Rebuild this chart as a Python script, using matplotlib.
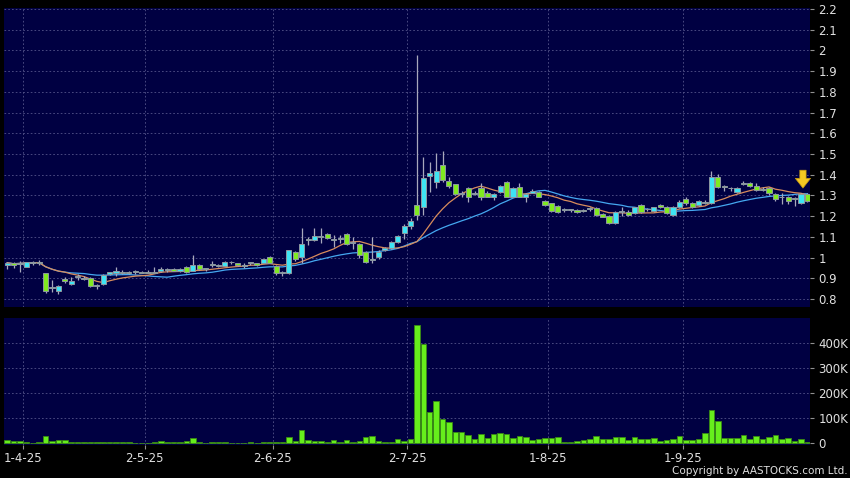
import numpy as np
import pandas as pd
import matplotlib
matplotlib.use("Agg")
import matplotlib.pyplot as plt
from matplotlib.ticker import FixedLocator, FuncFormatter

# daily OHLC, first session is three days before 1-4-25
opens = [0.965, 0.975, 0.97, 0.955, 0.975, 0.978, 0.925, 0.855, 0.84, 0.895,
         0.87, 0.905, 0.895, 0.90, 0.862, 0.87, 0.918, 0.925, 0.932, 0.932,
         0.93, 0.932, 0.932, 0.932, 0.935, 0.94, 0.943, 0.935, 0.953, 0.935,
         0.964, 0.943, 0.963, 0.96, 0.96, 0.977, 0.972, 0.96, 0.972, 0.972,
         0.972, 1.001, 0.96, 0.924, 0.924, 1.025, 1.001, 1.085, 1.085, 1.10,
         1.114, 1.085, 1.09, 1.114, 1.07, 1.065, 1.028, 0.99, 1.001, 1.036,
         1.045, 1.077, 1.118, 1.15, 1.253, 1.245, 1.394, 1.366, 1.447, 1.37,
         1.353, 1.305, 1.334, 1.307, 1.334, 1.313, 1.294, 1.318, 1.363, 1.294,
         1.342, 1.294, 1.313, 1.318, 1.273, 1.262, 1.25, 1.228, 1.228, 1.229,
         1.229, 1.233, 1.241, 1.21, 1.20, 1.165, 1.22, 1.221, 1.216, 1.253,
         1.232, 1.226, 1.253, 1.242, 1.205, 1.245, 1.281, 1.261, 1.256, 1.269,
         1.265, 1.39, 1.345, 1.334, 1.315, 1.355, 1.36, 1.345, 1.33, 1.334,
         1.305, 1.29, 1.29, 1.285, 1.265, 1.306]
highs = [0.98, 0.98, 0.985, 0.98, 0.985, 0.99, 0.925, 0.89, 0.865, 0.905,
         0.905, 0.92, 0.91, 0.905, 0.87, 0.92, 0.93, 0.955, 0.94, 0.935,
         0.94, 0.935, 0.94, 0.953, 0.955, 0.95, 0.95, 0.948, 0.96, 1.012,
         0.97, 0.95, 0.983, 0.97, 0.985, 0.983, 0.975, 0.975, 0.98, 0.975,
         0.995, 1.005, 0.962, 0.935, 1.036, 1.03, 1.141, 1.10, 1.141, 1.141,
         1.12, 1.11, 1.11, 1.118, 1.10, 1.07, 1.03, 1.10, 1.035, 1.05,
         1.08, 1.11, 1.16, 1.19, 1.98, 1.487, 1.463, 1.505, 1.515, 1.39,
         1.355, 1.32, 1.34, 1.32, 1.36, 1.32, 1.31, 1.35, 1.37, 1.34,
         1.36, 1.31, 1.33, 1.32, 1.28, 1.265, 1.255, 1.24, 1.235, 1.235,
         1.235, 1.245, 1.245, 1.215, 1.205, 1.225, 1.245, 1.23, 1.245, 1.26,
         1.24, 1.245, 1.26, 1.25, 1.25, 1.28, 1.29, 1.27, 1.28, 1.28,
         1.42, 1.405, 1.35, 1.34, 1.34, 1.37, 1.365, 1.36, 1.34, 1.34,
         1.31, 1.31, 1.295, 1.29, 1.31, 1.31]
lows = [0.945, 0.95, 0.93, 0.955, 0.965, 0.965, 0.83, 0.835, 0.825, 0.875,
        0.868, 0.89, 0.89, 0.86, 0.85, 0.865, 0.915, 0.91, 0.92, 0.92,
        0.92, 0.925, 0.925, 0.925, 0.93, 0.93, 0.935, 0.93, 0.925, 0.935,
        0.94, 0.935, 0.955, 0.955, 0.96, 0.97, 0.96, 0.95, 0.965, 0.96,
        0.972, 0.972, 0.915, 0.912, 0.922, 0.985, 0.972, 1.06, 1.08, 1.07,
        1.09, 1.05, 1.07, 1.06, 1.04, 1.0, 0.975, 0.975, 0.995, 1.03,
        1.04, 1.07, 1.09, 1.14, 1.18, 1.205, 1.318, 1.336, 1.366, 1.335,
        1.30, 1.29, 1.27, 1.30, 1.28, 1.29, 1.28, 1.31, 1.29, 1.29,
        1.29, 1.27, 1.31, 1.29, 1.25, 1.22, 1.215, 1.22, 1.22, 1.215,
        1.22, 1.225, 1.20, 1.195, 1.16, 1.16, 1.20, 1.20, 1.21, 1.215,
        1.225, 1.22, 1.24, 1.21, 1.20, 1.24, 1.255, 1.24, 1.25, 1.26,
        1.26, 1.335, 1.32, 1.32, 1.31, 1.35, 1.34, 1.32, 1.32, 1.30,
        1.275, 1.26, 1.26, 1.25, 1.26, 1.27]
closes = [0.975, 0.965, 0.975, 0.98, 0.978, 0.975, 0.84, 0.86, 0.862, 0.885,
          0.888, 0.907, 0.902, 0.862, 0.868, 0.915, 0.928, 0.933, 0.927, 0.927,
          0.931, 0.927, 0.927, 0.927, 0.943, 0.941, 0.935, 0.943, 0.928, 0.964,
          0.943, 0.944, 0.965, 0.961, 0.98, 0.976, 0.962, 0.961, 0.973, 0.964,
          0.991, 0.972, 0.924, 0.925, 1.036, 0.991, 1.065, 1.087, 1.104, 1.101,
          1.093, 1.09, 1.091, 1.065, 1.071, 1.01, 0.98, 0.992, 1.028, 1.045,
          1.077, 1.104, 1.152, 1.178, 1.205, 1.385, 1.406, 1.419, 1.374, 1.345,
          1.307, 1.313, 1.294, 1.313, 1.291, 1.294, 1.307, 1.345, 1.291, 1.334,
          1.294, 1.305, 1.322, 1.294, 1.254, 1.225, 1.222, 1.229, 1.229, 1.221,
          1.225, 1.241, 1.205, 1.198, 1.168, 1.22, 1.222, 1.205, 1.242, 1.221,
          1.233, 1.242, 1.245, 1.213, 1.245, 1.269, 1.261, 1.245, 1.272, 1.265,
          1.39, 1.342, 1.34, 1.335, 1.334, 1.36, 1.345, 1.325, 1.328, 1.31,
          1.281, 1.29, 1.274, 1.284, 1.306, 1.274]
volumes_k = [13, 8, 8, 3, 1, 5, 27, 8, 11, 11,
             3, 2, 3, 3, 2, 4, 3, 3, 2, 2,
             1, 1, 1, 3, 7, 3, 5, 5, 7, 21,
             5, 1, 3, 2, 2, 1, 1, 1, 2, 1,
             5, 3, 5, 4, 24, 8, 51, 11, 7, 7,
             5, 11, 3, 11, 5, 8, 23, 29, 8, 3,
             4, 16, 8, 17, 471, 397, 124, 167, 97, 84,
             44, 44, 31, 15, 35, 21, 37, 41, 37, 21,
             27, 25, 11, 15, 21, 19, 24, 4, 3, 7,
             11, 15, 29, 17, 16, 25, 24, 13, 24, 15,
             15, 20, 8, 11, 17, 28, 11, 11, 17, 41,
             133, 87, 21, 21, 19, 31, 16, 27, 17, 24,
             31, 15, 20, 7, 15, 3]
first_day = -3
date_labels = ['1-4-25', '2-5-25', '2-6-25', '2-7-25', '1-8-25', '1-9-25']
date_index = [0, 19, 39, 60, 82, 103]

bg = '#000042'
grid_kw = dict(color='#54548a', linestyle=(0, (2, 2.5)), linewidth=0.6)
up_col, down_col = '#3ee4f4', '#80ea20'

x = np.arange(len(closes)) + first_day
o = np.array(opens); h = np.array(highs); l = np.array(lows); c = np.array(closes)
ma10 = pd.Series(c).rolling(10, min_periods=1).mean()
ma20 = pd.Series(c).rolling(20, min_periods=1).mean()

fig = plt.figure(figsize=(8.5, 4.78), dpi=100, facecolor='black')
ax = fig.add_axes([4/850, 1 - 307/478, 806/850, 299/478])
axv = fig.add_axes([4/850, 1 - 445/478, 806/850, 127/478])

tick_pos = [d - 0.5 for d in date_index]
for a in (ax, axv):
    a.set_facecolor(bg)
    for s in a.spines.values():
        s.set_visible(False)
    a.set_xlim(-3.5, 122.4)
    a.xaxis.set_major_locator(FixedLocator(tick_pos))
    a.yaxis.tick_right()
    a.tick_params(axis='y', colors='#909090', labelcolor='#e0e0e0', labelsize=8.5,
                  length=3, width=0.8, pad=3)
    a.grid(True, **grid_kw)
    a.set_axisbelow(True)

# price panel
ax.plot(x, ma20, color='#45a8f0', lw=0.9, zorder=2)
ax.plot(x, ma10, color='#d98c5c', lw=0.9, zorder=2)
ax.vlines(x, l, h, color='#a8a8bc', lw=0.9, zorder=3)
up = c >= o
body_h = np.maximum(np.abs(c - o), 0.004)
ax.bar(x, body_h, bottom=np.minimum(o, c), width=0.8,
       color=np.where(up, up_col, down_col), edgecolor='#8e98a0', linewidth=0.7, zorder=4)
ax.set_ylim(0.761, 2.205)
ax.yaxis.set_major_locator(FixedLocator(np.round(np.arange(0.8, 2.21, 0.1), 1)))
ax.yaxis.set_major_formatter(FuncFormatter(lambda v, p: f"{v:g}"))
ax.tick_params(axis='x', bottom=False, labelbottom=False)

ax.annotate('', xy=(x[-2] + 0.3, 1.322), xytext=(x[-2] + 0.3, 1.435),
            arrowprops=dict(arrowstyle='simple,head_width=1.1,head_length=0.7,tail_width=0.45',
                            color='#f5c823', ec='#c89a10', lw=0.5), zorder=6)

# volume panel
axv.bar(x, volumes_k, width=0.86, color='#66ee1c', edgecolor='#3a8a14', linewidth=0.6, zorder=3)
axv.set_ylim(-9, 499)
axv.yaxis.set_major_locator(FixedLocator([0, 100, 200, 300, 400]))
axv.yaxis.set_major_formatter(FuncFormatter(lambda v, p: '0' if v == 0 else f"{v:.0f}K"))
axv.set_xticklabels(date_labels)
axv.tick_params(axis='x', colors='#909090', labelcolor='#e0e0e0', labelsize=8.5,
                length=3, width=0.8, pad=2)

fig.text(848/850, 1 - 471/478, 'Copyright by AASTOCKS.com Ltd.', color='#e0e0e0',
         fontsize=7.5, ha='right', va='center')

fig.savefig('out.png', dpi=100, facecolor='black')
